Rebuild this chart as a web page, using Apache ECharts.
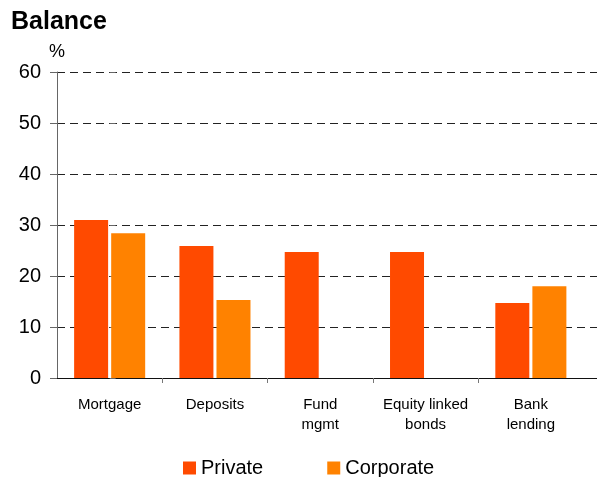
<!DOCTYPE html>
<html>
<head>
<meta charset="utf-8">
<script src="https://cdn.jsdelivr.net/npm/echarts@6/dist/echarts.min.js"></script>
<style>
  html, body { margin: 0; padding: 0; background: #fff; }
  #chart { width: 597px; height: 477px; }
</style>
</head>
<body>
<div id="chart"></div>
<script>
// Balance by product, in percent
const categories = ['Mortgage', 'Deposits', 'Fund\nmgmt', 'Equity linked\nbonds', 'Bank\nlending'];
const privateValues = [31.0, 25.9, 24.7, 24.7, 14.7];
const corporateValues = [28.4, 15.3, null, null, 18.0];
const yTicks = { min: 0, max: 60, interval: 10 };

const FONT = 'Liberation Sans, Arial, sans-serif';
const chart = echarts.init(document.getElementById('chart'));

// Plot layout: the bar grid stops short of the right edge, while the
// dashed gridlines and baseline run all the way across.
const W = 597;
const gridLeft = 57, gridTop = 72, gridBottom = 99, barRight = 13.5;
const catWidth = (W - gridLeft - barRight) / categories.length;
const fullSpan = (W - gridLeft) / catWidth;
const boundaryTicks = categories.slice(1).map((_, i) => i + 0.5);

chart.setOption({
  animation: false,
  textStyle: { fontFamily: FONT },
  title: [
    { text: 'Balance', left: 6, top: 5,
      textStyle: { fontFamily: FONT, fontSize: 25, fontWeight: 'bold', color: '#000' } },
    { text: '%', left: 44, top: 38,
      textStyle: { fontFamily: FONT, fontSize: 18, fontWeight: 'normal', color: '#000' } }
  ],
  legend: {
    left: 178, top: 453,
    itemWidth: 13, itemHeight: 13, itemGap: 64,
    icon: 'rect',
    textStyle: { fontFamily: FONT, fontSize: 20, color: '#000' },
    data: ['Private', 'Corporate']
  },
  grid: [
    { left: gridLeft, top: gridTop, right: barRight, bottom: gridBottom },
    { left: gridLeft, top: gridTop, right: 0, bottom: gridBottom }
  ],
  xAxis: [
    {
      type: 'category', gridIndex: 0, data: categories,
      axisLine: { show: false },
      axisTick: { show: false },
      axisLabel: { fontFamily: FONT, fontSize: 15, color: '#000', margin: 17,
        lineHeight: 20, interval: 0 }
    },
    {
      type: 'value', gridIndex: 1, min: -0.5, max: -0.5 + fullSpan,
      axisLine: { show: true, onZero: false, lineStyle: { color: '#111', width: 1 } },
      axisTick: { show: true, length: 5, customValues: boundaryTicks,
        lineStyle: { color: '#777', width: 1 } },
      axisLabel: { show: false }, splitLine: { show: false }
    }
  ],
  yAxis: [
    {
      type: 'value', gridIndex: 0, min: yTicks.min, max: yTicks.max, interval: yTicks.interval,
      axisLine: { show: true, lineStyle: { color: '#666', width: 1 } },
      axisTick: { show: true, length: 7, lineStyle: { color: '#666' } },
      axisLabel: { fontFamily: FONT, fontSize: 20, color: '#000', margin: 16 },
      splitLine: { show: false }
    },
    {
      type: 'value', gridIndex: 1, min: yTicks.min, max: yTicks.max, interval: yTicks.interval,
      axisLine: { show: false },
      axisTick: { show: true, inside: true, length: 6, lineStyle: { color: '#666' } },
      axisLabel: { show: false },
      splitLine: { show: true, lineStyle: { color: '#222', type: [8, 5], width: 1 } }
    }
  ],
  series: [
    {
      name: 'Private', type: 'bar', xAxisIndex: 0, yAxisIndex: 0,
      data: privateValues, barWidth: 34, barGap: '9%',
      itemStyle: { color: '#FF4A00' }
    },
    {
      name: 'Corporate', type: 'bar', xAxisIndex: 0, yAxisIndex: 0,
      data: corporateValues, barWidth: 34, barGap: '9%',
      itemStyle: { color: '#FF8200' }
    }
  ]
});
</script>
</body>
</html>
